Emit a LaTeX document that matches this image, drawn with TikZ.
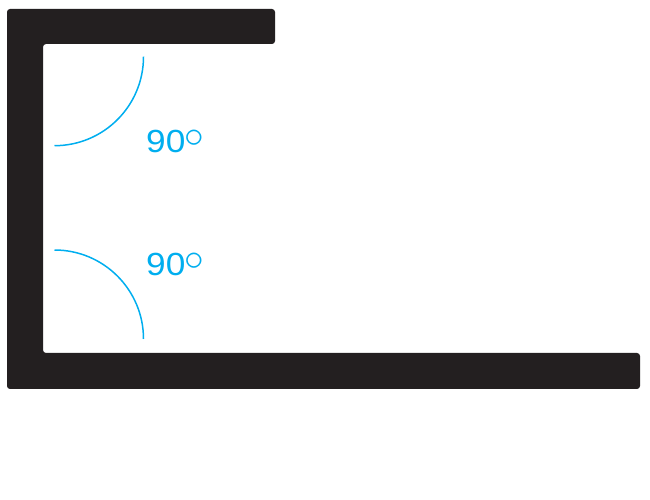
\documentclass[tikz,border=0pt]{standalone}
\usepackage{fontspec}
\setmainfont{Liberation Sans}
\newfontfamily\labelfont[FakeStretch=1.1]{Liberation Sans}
\usepackage{graphicx}
\definecolor{barblack}{HTML}{231F20}
\definecolor{arccyan}{HTML}{00AEEF}
\tikzset{
  anglearc/.style={draw=arccyan, line width=1.5pt},
  anglelabel/.style={text=arccyan, font=\labelfont\fontsize{32}{34}\selectfont, inner sep=0pt, anchor=base west},
}
\newcommand{\degsign}{\kern-0.5pt\raisebox{5pt}{\scalebox{1.58}{$\circ$}}}
\begin{document}
\begin{tikzpicture}[x=1pt,y=1pt]
\useasboundingbox (0,0) rectangle (650,500);
% C-shaped profile
\fill[barblack, rounded corners=3pt]
  (7,491) -- (275,491) -- (275,456) -- (43,456) -- (43,147) -- (640,147)
  -- (640,111) -- (7,111) -- cycle;
% angle arcs
\coordinate (topstart) at (143.5,443.3);
\coordinate (botstart) at (54.5,250);
\draw[anglearc] (topstart) arc[start angle=0, end angle=-90, radius=89pt];
\draw[anglearc] (botstart) arc[start angle=90, end angle=0, radius=89pt];
% labels
\node[anglelabel] (toplabel) at (146,347.7) {90\degsign};
\node[anglelabel] (botlabel) at (146,224.6) {90\degsign};
\end{tikzpicture}
\end{document}
